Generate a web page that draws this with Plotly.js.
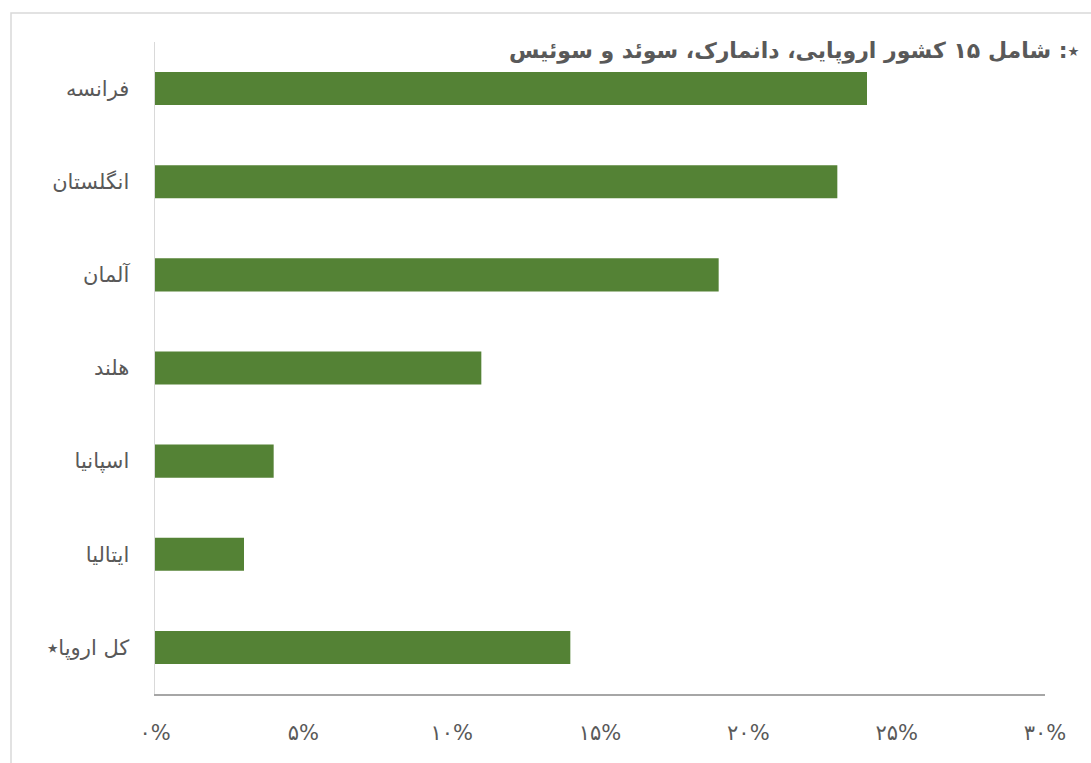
<!DOCTYPE html>
<html>
<head>
<meta charset="utf-8">
<script src="https://cdn.plot.ly/plotly-3.0.1.min.js"></script>
<style>html,body{margin:0;padding:0;background:#fff;}#chart{width:1091px;height:763px;}</style>
</head>
<body>
<div id="chart"></div>
<script>
const categories = ["فرانسه", "انگلستان", "آلمان", "هلند", "اسپانیا", "ایتالیا", "کل اروپا٭"];
const values = [24, 23, 19, 11, 4, 3, 14];
const tickValues = [0, 5, 10, 15, 20, 25, 30];
const tickLabels = ["۰%", "۵%", "۱۰%", "۱۵%", "۲۰%", "۲۵%", "۳۰%"];
const noteText = "٭: شامل ۱۵ کشور اروپایی، دانمارک، سوئد و سوئیس";

const W = 1091, H = 763;
const L = 155, R = 1045, T = 42, B = 694;
const px = x => (x - L) / (R - L);
const py = y => (B - y) / (B - T);

const trace = {
  type: "bar",
  orientation: "h",
  x: values,
  y: categories,
  marker: {color: "#548235"},
  hoverinfo: "x+y"
};

const layout = {
  width: W, height: H,
  margin: {l: L, r: W - R, t: T, b: H - B, pad: 0},
  paper_bgcolor: "#ffffff",
  plot_bgcolor: "#ffffff",
  showlegend: false,
  bargap: 0.645,
  font: {family: "DejaVu Sans, Noto Sans, sans-serif", color: "#595959", size: 20},
  xaxis: {
    range: [0, 30],
    tickvals: tickValues,
    ticktext: tickLabels,
    showgrid: false,
    zeroline: false,
    showline: true,
    linecolor: "#a6a6a6",
    linewidth: 1.5,
    ticks: "",
    ticklabelstandoff: 19,
    tickfont: {size: 21, color: "#595959"},
    fixedrange: true
  },
  yaxis: {
    autorange: "reversed",
    showgrid: false,
    zeroline: false,
    showline: true,
    linecolor: "#d9d9d9",
    linewidth: 1.5,
    ticks: "",
    ticklabelstandoff: 20,
    tickfont: {size: 21, color: "#595959"},
    fixedrange: true
  },
  annotations: [{
    xref: "paper", yref: "paper",
    x: px(1082), y: py(51),
    xanchor: "right", yanchor: "middle",
    text: "<b>" + noteText + "</b>",
    showarrow: false,
    font: {size: 22, color: "#595959"}
  }],
  shapes: [{
    type: "rect", xref: "paper", yref: "paper",
    x0: px(11), x1: px(1110), y0: py(790), y1: py(13),
    line: {color: "#d9d9d9", width: 1.5},
    fillcolor: "rgba(0,0,0,0)",
    layer: "below"
  }]
};

Plotly.newPlot("chart", [trace], layout, {displayModeBar: false, staticPlot: true});
</script>
</body>
</html>
